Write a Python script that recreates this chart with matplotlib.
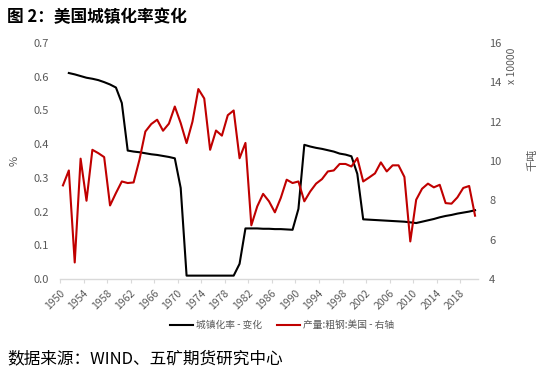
import numpy as np
import matplotlib
matplotlib.use("Agg")
import matplotlib.pyplot as plt
from matplotlib.ticker import FixedLocator, MultipleLocator

plt.rcParams['font.family'] = ['Noto Sans CJK SC', 'DejaVu Sans']

# 年份 (类别)
years = np.arange(1950, 2021)

# 城镇化率-变化 (左轴, 1950 缺失)
urban = [np.nan,
         0.611, 0.607, 0.602, 0.597, 0.594, 0.590, 0.584, 0.577, 0.568, 0.522,   # 1951-1960
         0.381, 0.378, 0.376, 0.373, 0.370, 0.368, 0.365, 0.362, 0.358, 0.270,   # 1961-1970
         0.010, 0.010, 0.010, 0.010, 0.010, 0.010, 0.010, 0.010, 0.010, 0.045,   # 1971-1980
         0.150, 0.150, 0.150, 0.149, 0.149, 0.148, 0.148, 0.147, 0.146, 0.208,   # 1981-1990
         0.398, 0.393, 0.389, 0.386, 0.382, 0.378, 0.372, 0.369, 0.364, 0.312,   # 1991-2000
         0.177, 0.176, 0.175, 0.174, 0.173, 0.172, 0.171, 0.170, 0.168, 0.166,   # 2001-2010
         0.170, 0.174, 0.178, 0.183, 0.187, 0.190, 0.194, 0.197, 0.200, 0.204]   # 2011-2020

# 产量:粗钢:美国 (右轴, x 10000 千吨)
steel = [8.76,
         9.52, 4.84, 10.12, 7.98, 10.57, 10.40, 10.20, 7.74, 8.37, 8.96,        # 1951-1960
         8.88, 8.91, 10.07, 11.50, 11.88, 12.10, 11.54, 11.90, 12.77, 11.93,    # 1961-1970
         10.91, 12.00, 13.66, 13.18, 10.57, 11.55, 11.29, 12.33, 12.57, 10.14,  # 1971-1980
         10.92, 6.73, 7.69, 8.33, 7.95, 7.39, 8.12, 9.05, 8.88, 8.96,           # 1981-1990
         7.95, 8.45, 8.85, 9.08, 9.47, 9.52, 9.85, 9.85, 9.72, 10.15,           # 1991-2000
         8.96, 9.16, 9.37, 9.93, 9.47, 9.78, 9.78, 9.19, 5.91, 8.03,            # 2001-2010
         8.59, 8.85, 8.66, 8.79, 7.86, 7.83, 8.15, 8.63, 8.73, 7.22]            # 2011-2020

label_years = list(range(1950, 2019, 4))

gray = "#595959"
fig = plt.figure(figsize=(5.51, 3.78), dpi=100)
ax = fig.add_axes([0.1089, 0.2619, 0.7586, 0.6243])
ax2 = ax.twinx()

l1, = ax.plot(years, urban, color="black", lw=1.5, label="城镇化率 - 变化")
l2, = ax2.plot(years, steel, color="#C00000", lw=1.5, label="产量:粗钢:美国 - 右轴")

ax.set_xlim(1949.5, 2020.5)
ax.set_ylim(0, 0.7)
ax.yaxis.set_major_locator(MultipleLocator(0.1))
ax.yaxis.set_major_formatter(plt.FuncFormatter(lambda v, p: f"{v:.1f}"))
ax2.set_ylim(4, 16)
ax2.yaxis.set_major_locator(MultipleLocator(2))

# 刻度: 标签在类别中心, 刻度线在类别边界
ax.xaxis.set_major_locator(FixedLocator(label_years))
ax.xaxis.set_minor_locator(FixedLocator(np.arange(1949.5, 2021, 4)))
ax.set_xticklabels([str(y) for y in label_years], rotation=45, ha="right",
                   va="center", rotation_mode="anchor")
ax.tick_params(axis="x", which="major", length=0, pad=9, labelsize=7.5, labelcolor=gray)
ax.tick_params(axis="x", which="minor", length=3, color="#d9d9d9", width=0.8)
ax.tick_params(axis="y", length=0, labelsize=8, labelcolor=gray, pad=8)
ax2.tick_params(axis="y", length=0, labelsize=8, labelcolor=gray, pad=8)

for a in (ax, ax2):
    for s in ("top", "left", "right"):
        a.spines[s].set_visible(False)
    a.spines["bottom"].set_color("#d9d9d9")
    a.spines["bottom"].set_linewidth(1)
ax2.spines["bottom"].set_visible(False)

ax.set_ylabel("%", color=gray, fontsize=8, labelpad=10)
fig.text(0.966, 0.577, "千吨", rotation=90, color=gray, fontsize=8, ha="center", va="center")
fig.text(0.929, 0.825, "x 10000", rotation=90, color=gray, fontsize=7.5, ha="center", va="center")

fig.text(0.013, 0.955, "图 2：美国城镇化率变化", fontsize=12, fontweight="bold", ha="left", va="center")
fig.text(0.013, 0.052, "数据来源：WIND、五矿期货研究中心", fontsize=12, ha="left", va="center")

fig.legend(handles=[l1, l2], loc="center", bbox_to_anchor=(0.512, 0.14), ncol=2,
           frameon=False, fontsize=7, handlelength=2.3, columnspacing=1.6,
           handletextpad=0.3, labelcolor=gray)

fig.savefig("out.png", dpi=100)
